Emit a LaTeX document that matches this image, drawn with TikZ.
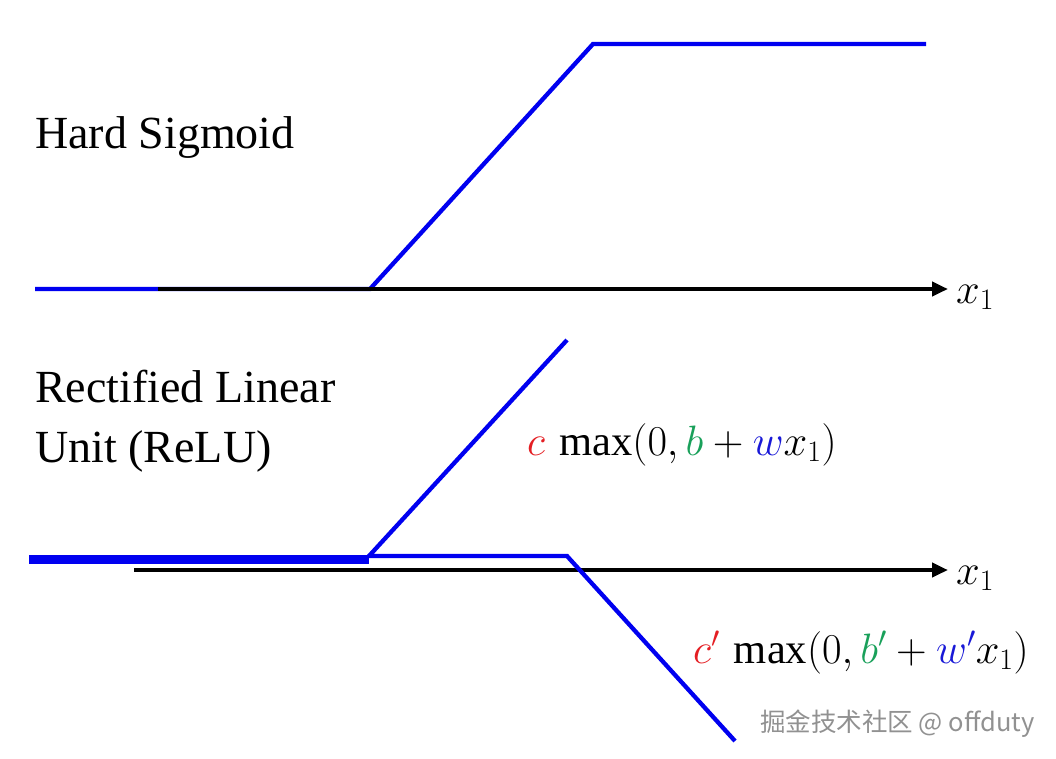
\RequirePackage{fix-cm}
\documentclass[tikz,border=0pt]{standalone}
\usepackage{fontspec}
\setmainfont{Liberation Serif}
\newfontfamily\cjk{Noto Sans CJK SC}
\usetikzlibrary{arrows.meta}
\definecolor{lineblue}{RGB}{0,0,240}
\definecolor{mred}{RGB}{228,30,35}
\definecolor{mgreen}{RGB}{25,160,90}
\definecolor{mblue}{RGB}{25,25,215}
\definecolor{wmgray}{RGB}{145,145,145}
\tikzset{
  curve/.style={lineblue, line width=4.3pt, line join=miter},
  thickcurve/.style={lineblue, line width=9pt},
  axis/.style={black, line width=4pt, -{Triangle[length=16pt,width=14pt]}},
  lbl/.style={anchor=base west, inner sep=0pt, font=\fontsize{46}{52}\selectfont},
  mlbl/.style={anchor=base west, inner sep=0pt, font=\fontsize{42.5}{48}\selectfont},
  wm/.style={anchor=base west, inner sep=0pt, text=wmgray, font=\cjk\fontsize{25.5}{28}\selectfont}
}
\begin{document}
\begin{tikzpicture}[x=1pt,y=-1pt]
\useasboundingbox (0,0) rectangle (1056,758);
% ---------- top: hard sigmoid ----------
\coordinate (t0) at (35,289);
\coordinate (t1) at (370,289);
\coordinate (t2) at (593,44);
\coordinate (t3) at (926,44);
\coordinate (ta) at (158,289);
\coordinate (tb) at (948,289);
\draw[curve] (t0) -- (t1) -- (t2) -- (t3);
\draw[axis] (ta) -- (tb);
\node[mlbl] (tx) at (956,303) {$x_1$};
\node[lbl] (hs) at (35,148) {Hard Sigmoid};
% ---------- bottom: ReLU ----------
\coordinate (b0) at (29,559.5);
\coordinate (b1) at (369,559.5);
\coordinate (r0) at (369,556);
\coordinate (r1) at (567,340);
\coordinate (s1) at (567,556);
\coordinate (s2) at (735,741);
\coordinate (ba) at (134,570);
\coordinate (bb) at (948,570);
\draw[axis] (ba) -- (bb);
\draw[thickcurve] (b0) -- (b1);
\draw[curve] (r1) -- (r0) -- (s1) -- (s2);
\node[mlbl] (bx) at (956,584) {$x_1$};
\node[lbl] (rl1) at (35,402) {Rectified Linear};
\node[lbl] (rl2) at (35,462) {Unit (ReLU)};
\node[mlbl] (f1) at (527,455) {$\textcolor{mred}{c}\,\max(0,\textcolor{mgreen}{b}+\textcolor{mblue}{w}x_1)$};
\node[mlbl] (f2) at (693,663) {$\textcolor{mred}{c'}\,\max(0,\textcolor{mgreen}{b'}+\textcolor{mblue}{w'}x_1)$};
% ---------- watermark ----------
\node[wm] (wmk) at (760,731) {掘金技术社区 @ offduty};
\end{tikzpicture}
\end{document}
